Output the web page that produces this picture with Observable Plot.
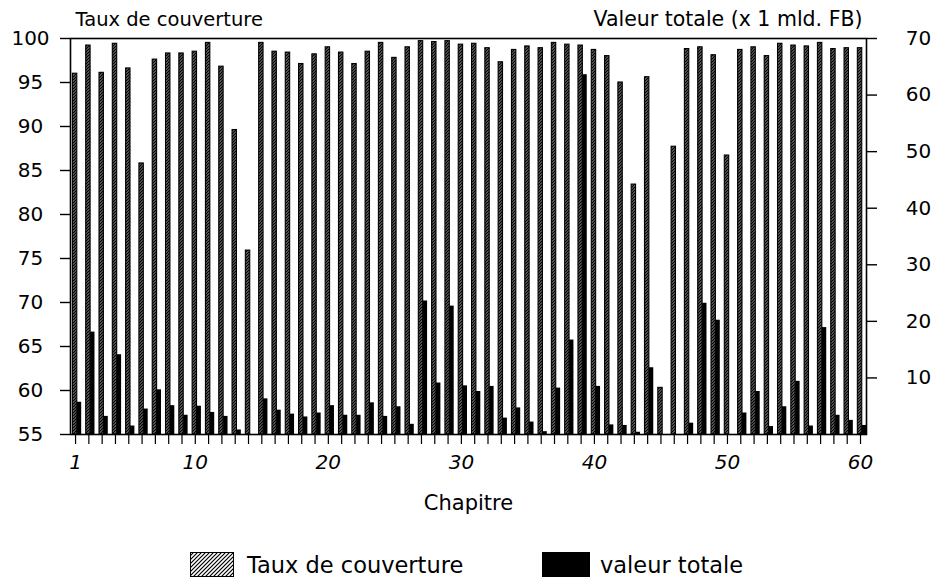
<!DOCTYPE html>
<html>
<head>
<meta charset="utf-8">
<script src="https://cdn.jsdelivr.net/npm/d3@7"></script>
<script src="https://cdn.jsdelivr.net/npm/@observablehq/plot@0.6"></script>
<style>
  html, body { margin: 0; padding: 0; background: #fff; }
  #wrap { position: relative; width: 938px; height: 584px; font-family: "DejaVu Sans", sans-serif; color: #000; }
  #chart svg { display: block; }
  .leg { position: absolute; font-size: 22.5px; line-height: 1; white-space: nowrap; }
</style>
</head>
<body>
<div id="wrap">
  <div id="chart"></div>
  <div class="leg" style="left:190px; top:552px;">
    <svg width="44" height="25"><defs><pattern id="hatchLeg" patternUnits="userSpaceOnUse" width="4" height="4"><rect width="4" height="4" fill="#fff"/><path d="M-1,1 l2,-2 M0,4 l4,-4 M3,5 l2,-2" stroke="#000" stroke-width="1.2"/></pattern></defs><rect x="0.5" y="0.5" width="43" height="24" fill="url(#hatchLeg)" stroke="#000" stroke-width="1"/></svg>
  </div>
  <div class="leg" id="legA" style="left:247px; top:554px;"></div>
  <div class="leg" style="left:542px; top:552px;">
    <svg width="48" height="25"><rect width="48" height="25" fill="#000"/></svg>
  </div>
  <div class="leg" id="legB" style="left:600px; top:554px;"></div>
</div>
<script>
// ---- data ----
const chapters = d3.range(1, 61);
const taux = [
  96.0, 99.2, 96.1, 99.4, 96.6, 85.8, 97.6, 98.3, 98.3, 98.5,
  99.5, 96.8, 89.6, 75.9, 99.5, 98.5, 98.4, 97.1, 98.2, 99.0,
  98.4, 97.1, 98.5, 99.5, 97.8, 99.0, 99.7, 99.6, 99.7, 99.3,
  99.4, 98.9, 97.3, 98.7, 99.1, 98.9, 99.5, 99.3, 99.2, 98.7,
  98.0, 95.0, 83.4, 95.6, 60.3, 87.7, 98.8, 99.0, 98.1, 86.7,
  98.7, 99.0, 98.0, 99.4, 99.2, 99.1, 99.5, 98.8, 98.9, 98.9
];
const valeur = [
  5.7, 18.1, 3.2, 14.1, 1.5, 4.5, 7.9, 5.1, 3.4, 5.0,
  3.9, 3.2, 0.8, 0.0, 6.3, 4.3, 3.6, 3.1, 3.8, 5.1,
  3.4, 3.4, 5.6, 3.2, 4.9, 1.8, 23.6, 9.1, 22.7, 8.6,
  7.6, 8.5, 2.9, 4.7, 2.2, 0.5, 8.2, 16.7, 63.6, 8.5,
  1.7, 1.6, 0.4, 11.8, 0.0, 0.0, 2.0, 23.2, 20.2, 0.0,
  3.8, 7.6, 1.4, 4.9, 9.4, 1.5, 18.9, 3.4, 2.5, 1.6
];
const xTickLabels = [1, 10, 20, 30, 40, 50, 60];
const leftTicks = [55, 60, 65, 70, 75, 80, 85, 90, 95, 100];
const rightTicks = [10, 20, 30, 40, 50, 60, 70];
const leftTitle = "Taux de couverture";
const rightTitle = "Valeur totale (x 1 mld. FB)";
const xTitle = "Chapitre";
const legendLabels = ["Taux de couverture", "valeur totale"];

// ---- helpers ----
const leftMin = 55, leftMax = 100, rightMax = 70;
const toLeft = v => leftMin + v * (leftMax - leftMin) / rightMax;
const fromLeft = y => Math.round((y - leftMin) * rightMax / (leftMax - leftMin));

const data = chapters.map((c, i) => ({ch: c, taux: taux[i], val: valeur[i]}));

const chart = Plot.plot({
  width: 938,
  height: 520,
  marginLeft: 70,
  marginRight: 72,
  marginTop: 38,
  marginBottom: 86,
  x: {domain: [0.62, 60.45], axis: null},
  y: {domain: [leftMin, leftMax], axis: null},
  style: {fontFamily: "DejaVu Sans, sans-serif", fontSize: "20px", color: "#000", background: "#fff", overflow: "visible"},
  marks: [
    Plot.rectY(data, {
      x1: d => d.ch - 0.2, x2: d => d.ch + 0.13,
      y1: leftMin, y2: "taux",
      fill: "url(#hatch)", stroke: "#000", strokeWidth: 1.1
    }),
    Plot.rectY(data.filter(d => d.val > 0), {
      x1: d => d.ch + 0.13, x2: d => d.ch + 0.46,
      y1: leftMin, y2: d => toLeft(d.val),
      fill: "#000"
    }),
    Plot.frame({stroke: "#000", strokeWidth: 1.6}),
    Plot.axisY(leftTicks, {
      anchor: "left", label: null, tickSize: 10, tickPadding: 30, textAnchor: "middle",
      strokeWidth: 1.4, fontSize: 20, tickFormat: d => String(d)
    }),
    Plot.axisY(rightTicks.map(toLeft), {
      anchor: "right", label: null, tickSize: 10, tickPadding: 42, textAnchor: "middle",
      strokeWidth: 1.4, fontSize: 20, tickFormat: d => String(fromLeft(d))
    }),
    Plot.axisX(chapters, {
      anchor: "bottom", label: null, tickSize: 10, tickPadding: 10, strokeWidth: 1.2,
      fontSize: 20, fontStyle: "italic",
      tickFormat: d => xTickLabels.includes(d) ? String(d) : ""
    }),
    Plot.text([leftTitle], {frameAnchor: "top-left", dx: 5, dy: -19, textAnchor: "start", lineAnchor: "middle", fontSize: 19.5}),
    Plot.text([rightTitle], {frameAnchor: "top-right", dx: -4, dy: -19, textAnchor: "end", lineAnchor: "middle", fontSize: 20.5}),
    Plot.text([xTitle], {frameAnchor: "bottom", dy: 69, lineAnchor: "middle", fontSize: 21})
  ]
});

d3.select(chart).insert("defs", ":first-child").html(
  '<pattern id="hatch" patternUnits="userSpaceOnUse" width="3" height="3">' +
  '<rect width="3" height="3" fill="#fff"/>' +
  '<path d="M-1,1 l2,-2 M0,3 l3,-3 M2,4 l2,-2" stroke="#000" stroke-width="1.6"/></pattern>'
);

document.getElementById("chart").appendChild(chart);
document.getElementById("legA").textContent = legendLabels[0];
document.getElementById("legB").textContent = legendLabels[1];
</script>
</body>
</html>
